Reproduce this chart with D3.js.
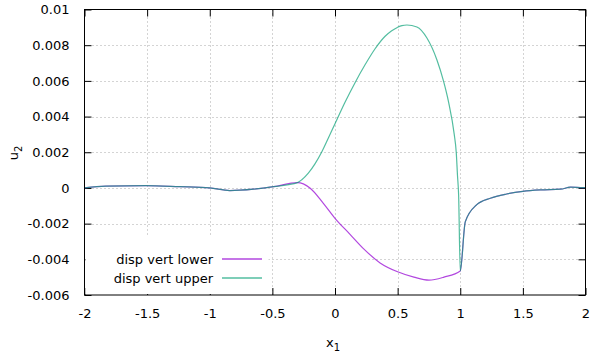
<!DOCTYPE html>
<html>
<head>
<meta charset="utf-8">
<script src="https://cdn.jsdelivr.net/npm/d3@7"></script>
<style>
  body { margin: 0; background: #fff; }
  text { font-family: "DejaVu Sans", sans-serif; font-size: 13px; fill: #000; }
</style>
</head>
<body>
<svg id="chart"></svg>
<script>
var width = 590;
var height = 358;
var margin = {top: 9.5, right: 4.5, bottom: 63, left: 84.5};

// shared part left of the crack
var xLeft = [-2, -1.83, -1.51, -1.24, -1.0, -0.84, -0.65, -0.49, -0.3];
var uLeft = [0, 0.0001, 0.00013, 0.00007, 0, -0.00015, -0.00007, 0.00007, 0.0003];

// lower face
var xLowerMid = [-0.2, -0.093, 0, 0.12, 0.227, 0.36, 0.5, 0.63, 0.75, 0.87, 1.0];
var uLowerMid = [0.0, -0.00086, -0.0017, -0.0026, -0.0034, -0.0042, -0.0047, -0.005, -0.00517, -0.005, -0.00465];

// upper face
var xUpperMid = [-0.267, -0.213, -0.16, -0.107, -0.053, 0, 0.08, 0.16, 0.24, 0.32, 0.4, 0.45, 0.494, 0.534, 0.574,
                 0.654, 0.734, 0.814, 0.866, 0.906, 0.952, 0.968, 0.978, 0.987, 1.0];
var uUpperMid = [0.00045, 0.00083, 0.00135, 0.002, 0.0028, 0.0036, 0.0048, 0.0059, 0.0069, 0.0078, 0.0085, 0.0088, 0.00898, 0.0091, 0.00913,
                 0.00902, 0.0084, 0.00717, 0.006, 0.00484, 0.003, 0.002, 0.0007, -0.0004, -0.00465];

// shared part right of the crack
var xRight = [1.04, 1.13, 1.24, 1.37, 1.5, 1.64, 1.8, 1.88, 1.98, 2];
var uRight = [-0.0019, -0.00095, -0.00058, -0.00034, -0.00019, -0.00011, -0.00007, 0.00004, 0.00002, 0.00002];

var xTicks = [-2, -1.5, -1, -0.5, 0, 0.5, 1, 1.5, 2];
var yTicks = [-0.006, -0.004, -0.002, 0, 0.002, 0.004, 0.006, 0.008, 0.01];
var seriesNames = ["disp vert lower", "disp vert upper"];
var seriesColors = ["#9400d3", "#009e73"];
var seriesOpacity = [0.72, 0.68];

function zip(xs, ys) {
  return xs.map(function(x, i) { return [x, ys[i]]; });
}

var lowerData = zip(xLeft, uLeft).concat(zip(xLowerMid, uLowerMid), zip(xRight, uRight));
var upperData = zip(xLeft, uLeft).concat(zip(xUpperMid, uUpperMid), zip(xRight, uRight));

var svg = d3.select("#chart").attr("width", width).attr("height", height);

var x = d3.scaleLinear().domain([-2, 2]).range([margin.left, width - margin.right]);
var y = d3.scaleLinear().domain([-0.006, 0.01]).range([height - margin.bottom, margin.top]);

var x0 = x.range()[0], x1 = x.range()[1];
var y0 = y.range()[0], y1 = y.range()[1];

// plain hyphen, gnuplot style
function fmt(d) {
  return String(+d.toFixed(3));
}

// grid
var grid = svg.append("g")
  .attr("stroke", "#a8a8a8")
  .attr("stroke-width", 1)
  .attr("stroke-dasharray", "1,3");

grid.selectAll("line.gx")
  .data(xTicks.slice(1, -1))
  .enter().append("line")
  .attr("x1", function(d) { return Math.round(x(d)) + 0.5; })
  .attr("x2", function(d) { return Math.round(x(d)) + 0.5; })
  .attr("y1", y1).attr("y2", y0);

grid.selectAll("line.gy")
  .data(yTicks.slice(1, -1))
  .enter().append("line")
  .attr("y1", function(d) { return Math.round(y(d)) + 0.5; })
  .attr("y2", function(d) { return Math.round(y(d)) + 0.5; })
  .attr("x1", x0).attr("x2", x1);

// axes with inward ticks, mirrored
svg.append("g")
  .attr("transform", "translate(0," + y0 + ")")
  .call(d3.axisBottom(x).tickValues(xTicks).tickSize(-7).tickPadding(14).tickFormat(fmt))
  .call(function(g) { g.select(".domain").remove(); });

svg.append("g")
  .attr("transform", "translate(0," + y1 + ")")
  .call(d3.axisTop(x).tickValues(xTicks).tickSize(-7).tickFormat(""))
  .call(function(g) { g.select(".domain").remove(); });

svg.append("g")
  .attr("transform", "translate(" + x0 + ",0)")
  .call(d3.axisLeft(y).tickValues(yTicks).tickSize(-7).tickPadding(15).tickFormat(fmt))
  .call(function(g) { g.select(".domain").remove(); });

svg.append("g")
  .attr("transform", "translate(" + x1 + ",0)")
  .call(d3.axisRight(y).tickValues(yTicks).tickSize(-7).tickFormat(""))
  .call(function(g) { g.select(".domain").remove(); });

svg.selectAll(".tick text")
  .attr("font-family", "DejaVu Sans, sans-serif")
  .attr("font-size", 13)
  .attr("fill", "#000");
svg.selectAll(".tick line").attr("stroke", "#000");

// opaque key box
var key = svg.append("g");
key.append("rect")
  .attr("x", x0 + 1).attr("y", 237)
  .attr("width", 183).attr("height", y0 - 238)
  .attr("fill", "#fff");

// curves
var line = d3.line()
  .x(function(d) { return x(d[0]); })
  .y(function(d) { return y(d[1]); })
  .curve(d3.curveMonotoneX);

[lowerData, upperData].forEach(function(data, i) {
  svg.append("path")
    .datum(data)
    .attr("fill", "none")
    .attr("stroke", seriesColors[i])
    .attr("stroke-opacity", seriesOpacity[i])
    .attr("stroke-width", 1.2)
    .attr("d", line);
});

// legend entries
seriesNames.forEach(function(name, i) {
  var ly = 259 + i * 19;
  key.append("text")
    .attr("x", 213).attr("y", ly + 5)
    .attr("text-anchor", "end")
    .text(name);
  key.append("line")
    .attr("x1", 222).attr("x2", 262)
    .attr("y1", ly).attr("y2", ly)
    .attr("stroke", seriesColors[i])
    .attr("stroke-opacity", seriesOpacity[i])
    .attr("stroke-width", 1.3);
});

// frame
svg.append("rect")
  .attr("x", x0).attr("y", y1)
  .attr("width", x1 - x0).attr("height", y0 - y1)
  .attr("fill", "none")
  .attr("stroke", "#000")
  .attr("stroke-width", 1);

// axis titles
var xt = svg.append("text")
  .attr("x", 333).attr("y", 347)
  .attr("text-anchor", "middle");
xt.append("tspan").text("x");
xt.append("tspan").attr("font-size", 10).attr("dy", 4).text("1");

var yt = svg.append("text")
  .attr("transform", "translate(18,153) rotate(-90)")
  .attr("text-anchor", "middle");
yt.append("tspan").text("u");
yt.append("tspan").attr("font-size", 10).attr("dy", 4).text("2");
</script>
</body>
</html>
